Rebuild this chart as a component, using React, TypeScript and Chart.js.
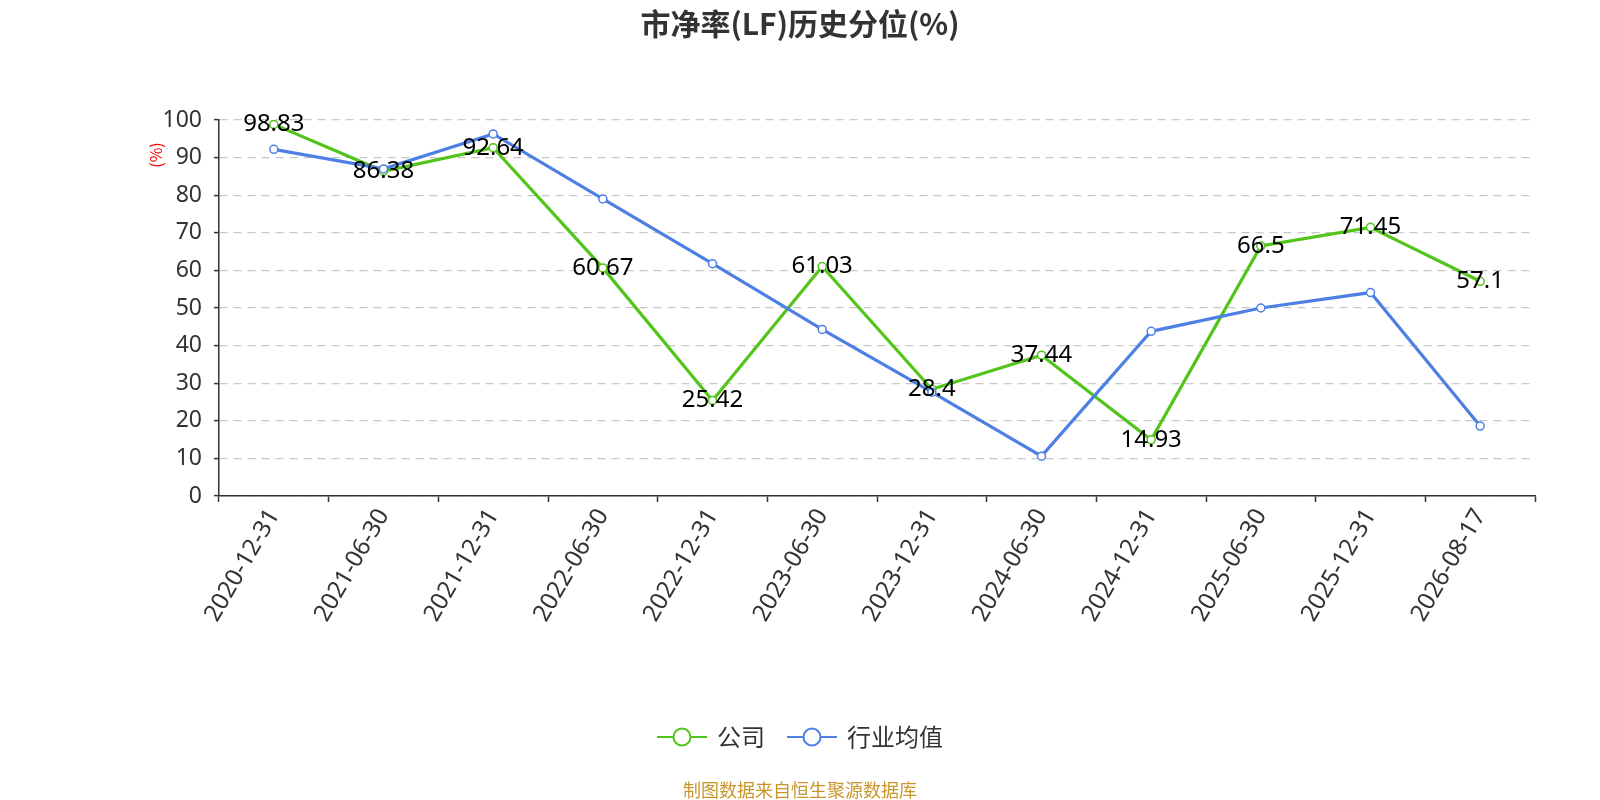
import React, { useEffect, useRef } from "react";
import { Chart, registerables } from "chart.js";

Chart.register(...registerables);

const categories = [
  "2020-12-31",
  "2021-06-30",
  "2021-12-31",
  "2022-06-30",
  "2022-12-31",
  "2023-06-30",
  "2023-12-31",
  "2024-06-30",
  "2024-12-31",
  "2025-06-30",
  "2025-12-31",
  "2026-08-17",
];
const companyValues = [98.83, 86.38, 92.64, 60.67, 25.42, 61.03, 28.4, 37.44, 14.93, 66.5, 71.45, 57.1];
const industryValues = [92.2, 87.0, 96.3, 79.0, 61.8, 44.3, 27.6, 10.6, 43.8, 50.0, 54.1, 18.6];
const seriesNames = ["公司", "行业均值"];
const seriesColors = ["#52c41a", "#4e80e4"];

const TITLE = "市净率(LF)历史分位(%)";
const SOURCE = "制图数据来自恒生聚源数据库";
const CJK = '"Noto Sans CJK SC", "Noto Sans", sans-serif';
const NUM = '"Noto Sans", "Open Sans", sans-serif';

const overlayPlugin = {
  id: "overlay",
  afterDatasetsDraw(chart: any) {
    const ctx = chart.ctx;
    const meta = chart.getDatasetMeta(0);
    ctx.save();
    ctx.font = `24px ${NUM}`;
    ctx.fillStyle = "#000";
    ctx.textAlign = "center";
    ctx.textBaseline = "middle";
    meta.data.forEach((pt: any, i: number) => {
      ctx.fillText(String(companyValues[i]), pt.x, pt.y);
    });
    ctx.restore();
  },
  afterDraw(chart: any) {
    const ctx = chart.ctx;
    const cx = 800;
    ctx.save();

    // title
    ctx.font = `bold 30px ${CJK}`;
    ctx.fillStyle = "#333";
    ctx.textAlign = "center";
    ctx.textBaseline = "middle";
    ctx.fillText(TITLE, cx, 24);

    // y axis name
    ctx.save();
    ctx.translate(156, 155);
    ctx.rotate(-Math.PI / 2);
    ctx.font = `16px ${CJK}`;
    ctx.fillStyle = "#ff0000";
    ctx.fillText("(%)", 0, 0);
    ctx.restore();

    // legend
    ctx.font = `24px ${CJK}`;
    ctx.textAlign = "left";
    const iconW = 50;
    const iconGap = 10;
    const itemGap = 22;
    const widths = seriesNames.map((n) => ctx.measureText(n).width);
    const total = widths.reduce((a, w) => a + iconW + iconGap + w, 0) + itemGap * (seriesNames.length - 1);
    let x = cx - total / 2;
    const ly = 737;
    seriesNames.forEach((name, i) => {
      ctx.strokeStyle = seriesColors[i];
      ctx.lineWidth = 2;
      ctx.beginPath();
      ctx.moveTo(x, ly);
      ctx.lineTo(x + iconW, ly);
      ctx.stroke();
      ctx.beginPath();
      ctx.arc(x + iconW / 2, ly, 8.5, 0, Math.PI * 2);
      ctx.fillStyle = "#fff";
      ctx.fill();
      ctx.stroke();
      ctx.fillStyle = "#333";
      ctx.fillText(name, x + iconW + iconGap, ly);
      x += iconW + iconGap + widths[i] + itemGap;
    });

    // source
    ctx.font = `18px ${CJK}`;
    ctx.fillStyle = "#c9962b";
    ctx.textAlign = "center";
    ctx.fillText(SOURCE, cx, 790);
    ctx.restore();
  },
};

const App = () => {
  const chartRef = useRef<HTMLCanvasElement>(null);

  useEffect(() => {
    document.body.style.margin = "0";
    const ctx = chartRef.current!.getContext("2d")!;
    const lineSet = (label: string, data: number[], color: string, order: number) => ({
      label,
      data,
      borderColor: color,
      backgroundColor: color,
      borderWidth: 3.2,
      pointRadius: 4,
      pointBorderWidth: 1.5,
      pointBackgroundColor: "#fff",
      pointBorderColor: color,
      tension: 0,
      fill: false,
      order,
    });
    const myChart = new Chart(ctx, {
      type: "line",
      data: {
        labels: categories,
        datasets: [
          lineSet(seriesNames[0], companyValues, seriesColors[0], 1),
          lineSet(seriesNames[1], industryValues, seriesColors[1], 0),
        ],
      },
      options: {
        responsive: false,
        animation: false,
        layout: { padding: { top: 120, right: 65, left: 0, bottom: 0 } },
        plugins: {
          legend: { display: false },
          title: { display: false },
          tooltip: { enabled: false },
        },
        scales: {
          x: {
            offset: true,
            grid: {
              offset: true,
              drawOnChartArea: false,
              drawTicks: true,
              tickLength: 6,
              tickColor: "#333",
              tickWidth: 1.5,
            },
            border: { color: "#333", width: 1.5 },
            ticks: {
              color: "#333",
              font: { size: 24, family: NUM },
              minRotation: 60,
              maxRotation: 60,
              autoSkip: false,
              padding: 2,
            },
            afterFit: (s: any) => {
              s.height = 304;
            },
          },
          y: {
            min: 0,
            max: 100,
            grid: {
              color: "#c8c8c8",
              lineWidth: 1.2,
              tickColor: "#333",
              tickLength: 5,
              tickWidth: 1.5,
            },
            border: { display: true, color: "#333", width: 1.5, dash: [8, 6] },
            ticks: {
              stepSize: 10,
              color: "#333",
              font: { size: 23, family: NUM },
              padding: 12,
            },
            afterFit: (s: any) => {
              s.width = 219;
            },
          },
        },
      },
      plugins: [overlayPlugin],
    } as any);

    return () => {
      myChart.destroy();
    };
  }, []);

  return (
    <div>
      <canvas ref={chartRef} width="1600" height="800"></canvas>
    </div>
  );
};

export default App;
